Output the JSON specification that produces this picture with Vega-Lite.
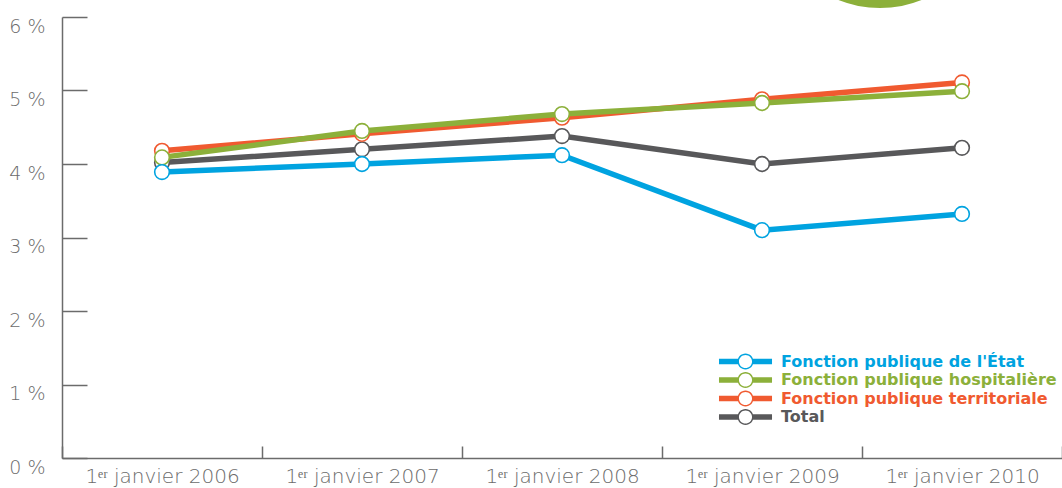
{
  "$schema": "https://vega.github.io/schema/vega-lite/v6.json",
  "autosize": {"type": "none"},
  "width": 1000,
  "height": 441,
  "padding": {"left": 62, "top": 17, "right": 0, "bottom": 30},
  "background": "white",
  "config": {
    "view": {"stroke": null},
    "axis": {
      "domainColor": "#6b6b6b",
      "domainWidth": 1.5,
      "tickColor": "#6b6b6b",
      "tickWidth": 1.5,
      "grid": false,
      "labelColor": "#6b6b6b",
      "labelFont": "DejaVu Sans",
      "labelFontWeight": 200,
      "labelFontSize": 19,
      "title": null
    }
  },
  "data": {
    "values": [
      {"annee": "1ᵉʳ janvier 2006", "serie": "Fonction publique de l'État", "taux": 3.89},
      {"annee": "1ᵉʳ janvier 2007", "serie": "Fonction publique de l'État", "taux": 4.0},
      {"annee": "1ᵉʳ janvier 2008", "serie": "Fonction publique de l'État", "taux": 4.12},
      {"annee": "1ᵉʳ janvier 2009", "serie": "Fonction publique de l'État", "taux": 3.1},
      {"annee": "1ᵉʳ janvier 2010", "serie": "Fonction publique de l'État", "taux": 3.32},
      {"annee": "1ᵉʳ janvier 2006", "serie": "Fonction publique hospitalière", "taux": 4.09},
      {"annee": "1ᵉʳ janvier 2007", "serie": "Fonction publique hospitalière", "taux": 4.45},
      {"annee": "1ᵉʳ janvier 2008", "serie": "Fonction publique hospitalière", "taux": 4.68},
      {"annee": "1ᵉʳ janvier 2009", "serie": "Fonction publique hospitalière", "taux": 4.83},
      {"annee": "1ᵉʳ janvier 2010", "serie": "Fonction publique hospitalière", "taux": 4.99},
      {"annee": "1ᵉʳ janvier 2006", "serie": "Fonction publique territoriale", "taux": 4.18},
      {"annee": "1ᵉʳ janvier 2007", "serie": "Fonction publique territoriale", "taux": 4.41},
      {"annee": "1ᵉʳ janvier 2008", "serie": "Fonction publique territoriale", "taux": 4.63},
      {"annee": "1ᵉʳ janvier 2009", "serie": "Fonction publique territoriale", "taux": 4.88},
      {"annee": "1ᵉʳ janvier 2010", "serie": "Fonction publique territoriale", "taux": 5.11},
      {"annee": "1ᵉʳ janvier 2006", "serie": "Total", "taux": 4.02},
      {"annee": "1ᵉʳ janvier 2007", "serie": "Total", "taux": 4.2},
      {"annee": "1ᵉʳ janvier 2008", "serie": "Total", "taux": 4.38},
      {"annee": "1ᵉʳ janvier 2009", "serie": "Total", "taux": 4.0},
      {"annee": "1ᵉʳ janvier 2010", "serie": "Total", "taux": 4.22}
    ]
  },
  "resolve": {"scale": {"x": "independent"}, "axis": {"x": "independent"}},
  "layer": [
    {
      "encoding": {
        "x": {
          "field": "annee",
          "type": "nominal",
          "sort": null,
          "scale": {"paddingInner": 0, "paddingOuter": 0},
          "axis": {
            "orient": "bottom",
            "tickBand": "extent",
            "tickSize": -12,
            "labelPadding": 20,
            "labelAngle": 0,
            "labelBaseline": "top",
            "labelFontSize": 20,
            "title": null
          }
        },
        "y": {
          "field": "taux",
          "type": "quantitative",
          "scale": {"domain": [0, 6], "nice": false},
          "axis": {
            "values": [0, 1, 2, 3, 4, 5, 6],
            "tickSize": -25,
            "labelPadding": 42,
            "labelOffset": 9,
            "title": null,
            "labelExpr": "datum.value + ' %'"
          }
        },
        "color": {
          "field": "serie",
          "type": "nominal",
          "scale": {
            "domain": ["Fonction publique de l'État", "Fonction publique hospitalière", "Fonction publique territoriale", "Total"],
            "range": ["#00a3e0", "#8cb03a", "#f05a30", "#58585a"]
          },
          "legend": {
            "orient": "none",
            "legendX": 675,
            "legendY": 336,
            "title": null,
            "symbolType": "M-3.12,-0.31L-0.85,-0.31L-0.85,0.31L-3.12,0.31Z M0.85,-0.31L3.12,-0.31L3.12,0.31L0.85,0.31Z M-0.94,0A0.94,0.94 0 1,1 0.94,0A0.94,0.94 0 1,1 -0.94,0Z M-0.77,0A0.77,0.77 0 1,0 0.77,0A0.77,0.77 0 1,0 -0.77,0Z",
            "symbolSize": 289,
            "symbolStrokeWidth": 0,
            "labelFont": "DejaVu Sans",
            "labelFontWeight": "bold",
            "labelFontSize": 16,
            "labelOffset": 27,
            "rowPadding": 1.5,
            "labelLimit": 400,
            "encode": {
              "symbols": {"update": {"fill": {"scale": "color", "field": "value"}, "stroke": {"value": "transparent"}, "opacity": {"value": 1}, "fillOpacity": {"value": 1}}},
              "labels": {"update": {"fill": {"scale": "color", "field": "value"}}}
            }
          }
        }
      },
      "layer": [
        {"transform": [{"filter": "datum.serie === 'Total'"}], "mark": {"type": "line", "strokeWidth": 5.5}},
        {"transform": [{"filter": "datum.serie === 'Total'"}], "mark": {"type": "point", "shape": "circle", "filled": false, "fill": "white", "fillOpacity": 1, "opacity": 1, "size": 215, "strokeWidth": 1.6}},
        {"transform": [{"filter": "datum.serie === 'Fonction publique territoriale'"}], "mark": {"type": "line", "strokeWidth": 5.5}},
        {"transform": [{"filter": "datum.serie === 'Fonction publique territoriale'"}], "mark": {"type": "point", "shape": "circle", "filled": false, "fill": "white", "fillOpacity": 1, "opacity": 1, "size": 215, "strokeWidth": 1.6}},
        {"transform": [{"filter": "datum.serie === 'Fonction publique hospitalière'"}], "mark": {"type": "line", "strokeWidth": 5.5}},
        {"transform": [{"filter": "datum.serie === 'Fonction publique hospitalière'"}], "mark": {"type": "point", "shape": "circle", "filled": false, "fill": "white", "fillOpacity": 1, "opacity": 1, "size": 215, "strokeWidth": 1.6}},
        {"transform": [{"filter": "datum.serie === \"Fonction publique de l'État\""}], "mark": {"type": "line", "strokeWidth": 5.5}},
        {"transform": [{"filter": "datum.serie === \"Fonction publique de l'État\""}], "mark": {"type": "point", "shape": "circle", "filled": false, "fill": "white", "fillOpacity": 1, "opacity": 1, "size": 215, "strokeWidth": 1.6}}
      ]
    },
    {
      "data": {"values": [{"pos": 4.09, "niveau": 7.64}]},
      "mark": {"type": "point", "shape": "circle", "filled": true, "color": "#8cb03a", "opacity": 1, "size": 49800, "strokeWidth": 0},
      "encoding": {
        "x": {"field": "pos", "type": "quantitative", "scale": {"domain": [0, 5], "nice": false, "zero": false}, "axis": null},
        "y": {"field": "niveau", "type": "quantitative", "scale": {"domain": [0, 6], "nice": false}}
      }
    }
  ]
}
